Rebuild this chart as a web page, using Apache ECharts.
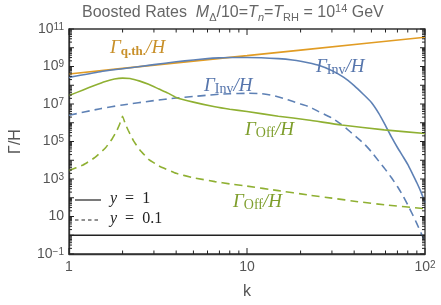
<!DOCTYPE html>
<html><head><meta charset="utf-8">
<script src="https://cdn.jsdelivr.net/npm/echarts@6/dist/echarts.min.js"></script>
<style>html,body{margin:0;padding:0;background:#fff}#c{width:441px;height:305px}</style>
</head><body><div id="c"></div>
<script>
// ---- data ----
const kOrange = [1, 2, 5, 10, 20, 50, 100];
const qThermal = [4.0e8, 7.9e8, 1.93e9, 3.8e9, 7.5e9, 1.84e10, 3.63e10];

const kInvY1 = [1,1.5,2,3,4,5,6,7,8,10,12,15,18,20,25,30,35,40,45,50,55,60,65,70,75,80,85,90,95,100];
const invY1 = [2.63e8,5.25e8,7.59e8,1.26e9,1.78e9,2.24e9,2.63e9,2.88e9,3.02e9,3.02e9,2.95e9,2.63e9,2.24e9,1.91e9,1.20e9,6.03e8,2.63e8,9.55e7,3.31e7,1.20e7,3.16e6,7.08e5,1.66e5,4.79e4,1.66e4,6.03e3,1.91e3,631,200,56];

const kInvY01 = [1,1.5,2,3,4,5,6,7,8,10,12,14,16,18,20,22,25,30,34,38,42,46,50,55,60,65,70,75,80,85,90,95,100];
const invY01 = [2.51e6,5.62e6,8.91e6,1.51e7,2.09e7,2.51e7,2.95e7,3.31e7,3.55e7,3.72e7,3.55e7,2.82e7,2.00e7,1.41e7,1.0e7,7.59e6,4.17e6,1.78e6,7.94e5,3.31e5,1.48e5,6.76e4,2.82e4,8.91e3,3.16e3,1.12e3,398,132,41.7,13.2,4.17,1.32,0.447];

const kOffY1 = [1,1.2,1.4,1.6,1.8,2,2.2,2.5,2.8,3.2,3.6,4,5,6.6,8,10,15,22,34,59,100];
const offY1 = [2.82e7,5.62e7,1.0e8,1.58e8,2.14e8,2.40e8,2.29e8,1.66e8,1.12e8,6.31e7,3.80e7,2.24e7,1.26e7,7.08e6,5.25e6,3.98e6,2.24e6,1.41e6,7.59e5,4.17e5,2.69e5];

const kOffY01 = [1,1.2,1.4,1.6,1.75,1.85,1.93,2.0,2.07,2.15,2.3,2.5,2.8,3.2,4,5,6.6,8,10,15,22,30,42,60,100];
const offY01 = [2.82e3,5.62e3,1.41e4,4.47e4,1.41e5,3.55e5,8.91e5,2.24e6,8.91e5,3.98e5,1.12e5,3.55e4,1.12e4,5.01e3,2.0e3,1.17e3,724,550,417,240,141,95.5,61.7,41.7,26.3];

const kUnity = [1, 100];
const unity = [1, 1];

const xMajorTicks = [1, 10, 100];
const xMinorTicks = [2,3,4,5,6,7,8,9,20,30,40,50,60,70,80,90];
const yDecades = [0.1,1,10,1e2,1e3,1e4,1e5,1e6,1e7,1e8,1e9,1e10,1e11];
const yMinorMult = [2,3,4,5,6,7,8,9];

const X_MIN = 1, X_MAX = 100, Y_MIN = 0.1, Y_MAX = 1e11;

// ---- build ----
const zip = (a, b) => a.map((v, i) => [v, b[i]]);
const tickData = [];
xMajorTicks.forEach(v => tickData.push([v, 1, 6, 0]));
xMinorTicks.forEach(v => tickData.push([v, 1, 3.5, 0]));
yDecades.forEach(v => tickData.push([1, v, 5, 1]));
yDecades.slice(0, -1).forEach(d => yMinorMult.forEach(m => tickData.push([1, d * m, 3, 1])));

const BLUE = '#5E81B5', ORANGE = '#E19C24', GREEN = '#8FB032';
const axisGray = '#555';

function supLabel(v) {
  const e = Math.round(Math.log10(v));
  if (e === 0) return '1';
  if (e === 1) return '10';
  return '10{sup|' + (e < 0 ? '\u2212' + (-e) : e) + '}';
}
const tickRich = { sup: { fontSize: 10, verticalAlign: 'top', lineHeight: 10, color: axisGray, fontFamily: 'Liberation Sans' } };

const chart = echarts.init(document.getElementById('c'), null, { renderer: 'canvas' });

function mathRich(color) {
  return {
    g: { fontFamily: 'Liberation Serif', fontStyle: 'italic', fontSize: 19, lineHeight: 22, fill: color, color: color },
    s: { fontFamily: 'Liberation Serif', fontSize: 14, verticalAlign: 'bottom', lineHeight: 14, fill: color, color: color },
    b: { fontFamily: 'Liberation Serif', fontWeight: 'bold', fontSize: 13, verticalAlign: 'bottom', lineHeight: 14, fill: color, color: color }
  };
}
function mathLabel(x, y, subKey, sub, color) {
  return {
    type: 'text', left: x, top: y, z: 100,
    style: { text: '{g|Γ}{' + subKey + '|' + sub + '}{g|/H}', rich: mathRich(color) }
  };
}
const legRich = {
  i: { fontFamily: 'Liberation Serif', fontStyle: 'italic', fontSize: 16, fill: '#222', color: '#222' },
  u: { fontFamily: 'Liberation Serif', fontSize: 16, fill: '#222', color: '#222' }
};

const option = {
  animation: false,
  grid: { left: 61, right: 16, top: 29, bottom: 51, show: true, borderColor: '#333', borderWidth: 1.3 },
  xAxis: {
    type: 'log', logBase: 10, min: X_MIN, max: X_MAX,
    axisLine: { show: true, lineStyle: { color: '#333', width: 1.3 } },
    axisTick: { show: false }, splitLine: { show: false }, minorTick: { show: false },
    axisLabel: { formatter: supLabel, rich: tickRich, color: axisGray, fontSize: 14, fontFamily: 'Liberation Sans', margin: 6 },
    name: 'k', nameLocation: 'middle', nameGap: 30,
    nameTextStyle: { color: axisGray, fontSize: 16, fontFamily: 'Liberation Sans' }
  },
  yAxis: {
    type: 'log', logBase: 10, min: Y_MIN, max: Y_MAX, interval: 2,
    axisLine: { show: true, lineStyle: { color: '#333', width: 1.3 } },
    axisTick: { show: false }, splitLine: { show: false }, minorTick: { show: false },
    axisLabel: { formatter: supLabel, rich: tickRich, color: axisGray, fontSize: 14, fontFamily: 'Liberation Sans', margin: 5 },
    name: 'Γ/H', nameLocation: 'middle', nameGap: 45, nameRotate: 90,
    nameTextStyle: { color: axisGray, fontSize: 16, fontFamily: 'Liberation Sans' }
  },
  series: [
    { type: 'line', data: zip(kUnity, unity), showSymbol: false, lineStyle: { color: '#222', width: 1.3 }, z: 3 },
    { type: 'line', data: zip(kOrange, qThermal), showSymbol: false, lineStyle: { color: ORANGE, width: 1.6 }, z: 4 },
    { type: 'line', data: zip(kInvY1, invY1), showSymbol: false, smooth: 0.2, lineStyle: { color: BLUE, width: 1.6 }, z: 5 },
    { type: 'line', data: zip(kInvY01, invY01), showSymbol: false, smooth: 0.2, lineStyle: { color: BLUE, width: 1.6, type: [8, 5] }, z: 5 },
    { type: 'line', data: zip(kOffY1, offY1), showSymbol: false, smooth: 0.2, lineStyle: { color: GREEN, width: 1.6 }, z: 5 },
    { type: 'line', data: zip(kOffY01, offY01), showSymbol: false, smooth: 0.1, lineStyle: { color: GREEN, width: 1.6, type: [8, 5] }, z: 5 },
    {
      type: 'custom', data: tickData, clip: false, z: 10, silent: true,
      encode: { x: 0, y: 1 },
      renderItem: function (params, api) {
        const v0 = api.value(0), v1 = api.value(1), len = api.value(2), ax = api.value(3);
        const st = { stroke: '#222', lineWidth: 1 };
        if (ax === 0) {
          const b = api.coord([v0, Y_MIN]), t = api.coord([v0, Y_MAX]);
          return { type: 'group', children: [
            { type: 'line', shape: { x1: b[0], y1: b[1], x2: b[0], y2: b[1] - len }, style: st },
            { type: 'line', shape: { x1: t[0], y1: t[1], x2: t[0], y2: t[1] + len }, style: st }
          ] };
        } else {
          const l = api.coord([X_MIN, v1]), r = api.coord([X_MAX, v1]);
          return { type: 'group', children: [
            { type: 'line', shape: { x1: l[0], y1: l[1], x2: l[0] + len, y2: l[1] }, style: st },
            { type: 'line', shape: { x1: r[0], y1: r[1], x2: r[0] - len, y2: r[1] }, style: st }
          ] };
        }
      }
    }
  ],
  graphic: [
    { type: 'text', left: 82, top: 3, z: 100, style: {
      text: '{n|Boosted Rates  }{i|M}{s|Δ}{n|/10=}{i|T}{si|n}{n|=}{i|T}{s|RH}{n| = 10}{p|14}{n| GeV}',
      rich: {
        n: { fontFamily: 'Liberation Sans', fontSize: 16, lineHeight: 20, fill: '#666', color: '#666' },
        i: { fontFamily: 'Liberation Sans', fontStyle: 'italic', fontSize: 16, lineHeight: 20, fill: '#666', color: '#666' },
        s: { fontFamily: 'Liberation Sans', fontSize: 11, verticalAlign: 'bottom', lineHeight: 12, fill: '#666', color: '#666' },
        si: { fontFamily: 'Liberation Sans', fontStyle: 'italic', fontSize: 11, verticalAlign: 'bottom', lineHeight: 12, fill: '#666', color: '#666' },
        p: { fontFamily: 'Liberation Sans', fontSize: 11, verticalAlign: 'top', lineHeight: 12, fill: '#666', color: '#666' }
      } } },
    mathLabel(110, 38, 'b', 'q.th.', '#C8902A'),
    mathLabel(316, 57, 's', 'Inv', '#5675AC'),
    mathLabel(204, 76, 's', 'Inv', '#5675AC'),
    mathLabel(245, 120, 's', 'Off', '#7E9E2C'),
    mathLabel(233, 192, 's', 'Off', '#7E9E2C'),
    { type: 'line', z: 100, shape: { x1: 75, y1: 200, x2: 101, y2: 200 }, style: { stroke: '#222', lineWidth: 1.2 } },
    { type: 'line', z: 100, shape: { x1: 75, y1: 220, x2: 101, y2: 220 }, style: { stroke: '#222', lineWidth: 1.2, lineDash: [3.5, 3] } },
    { type: 'text', left: 110, top: 191, z: 100, style: { text: '{i|y}{u|\u2002=\u20021}', rich: legRich } },
    { type: 'text', left: 110, top: 211, z: 100, style: { text: '{i|y}{u|\u2002=\u20020.1}', rich: legRich } }
  ]
};
chart.setOption(option);
</script></body></html>
